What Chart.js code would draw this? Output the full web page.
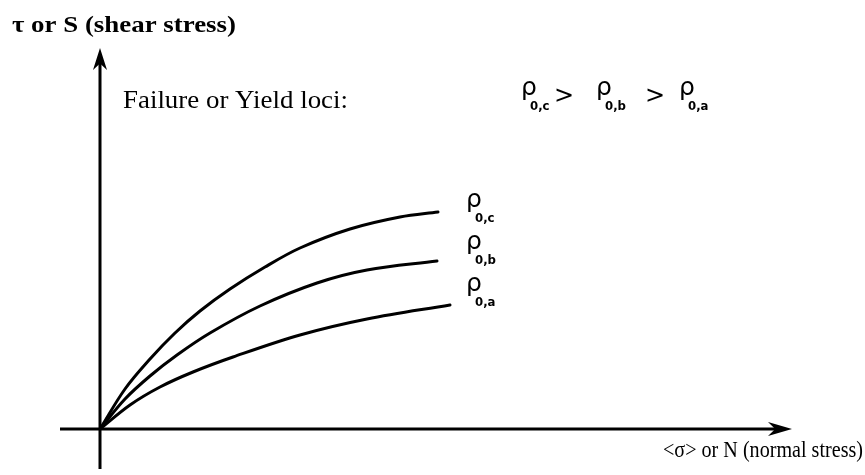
<!DOCTYPE html>
<html>
<head>
<meta charset="utf-8">
<script src="https://cdn.jsdelivr.net/npm/chart.js@4"></script>
<style>
  html, body { margin: 0; padding: 0; background: #fff; }
  #loci { display: block; }
</style>
</head>
<body>
<canvas id="loci" width="865" height="475"></canvas>
<script>
// yield loci, normal stress (x) vs shear stress (y), arbitrary units
const sigmaC = [0, 25, 50, 75, 100, 130, 165, 200, 250, 300, 338];
const tauC   = [0, 40, 70, 96, 118, 140, 162, 181, 200, 212, 217];

const sigmaB = [0, 25, 50, 77, 110, 160, 217, 267, 337];
const tauB   = [0, 30, 53, 74, 96, 123, 146, 159, 168];

const sigmaA = [0, 30, 60, 93, 133, 200, 267, 350];
const tauA   = [0, 24, 42, 57, 72, 94, 110, 124];

const curveNames = ['ρ0,c', 'ρ0,b', 'ρ0,a'];

const toPoints = (xs, ys) => xs.map((x, i) => ({ x: x, y: ys[i] }));

const serif = '"Liberation Serif", "Times New Roman", serif';
const sans = '"DejaVu Sans", sans-serif';

// squeeze or stretch a line of text so it spans the given width
function fitText(ctx, text, x, y, width) {
  const w = ctx.measureText(text).width;
  ctx.save();
  ctx.translate(x, y);
  ctx.scale(width / w, 1);
  ctx.fillText(text, 0, 0);
  ctx.restore();
}

// rho with a small "0,x" subscript hanging under its right side
function drawRho(ctx, x, y, sub) {
  ctx.font = '25px ' + sans;
  ctx.fillText('ρ', x - 1, y);
  ctx.font = 'bold 13px "DejaVu Sans Condensed", ' + sans;
  ctx.fillText(sub, x + 8, y + 15);
}

function arrow(ctx, x0, y0, x1, y1, len, half) {
  const a = Math.atan2(y1 - y0, x1 - x0);
  const c = Math.cos(a), s = Math.sin(a);
  ctx.beginPath();
  ctx.moveTo(x0, y0);
  ctx.lineTo(x1 - c * len * 0.6, y1 - s * len * 0.6);
  ctx.stroke();
  ctx.beginPath();
  ctx.moveTo(x1, y1);
  ctx.lineTo(x1 - c * len - s * half, y1 - s * len + c * half);
  ctx.lineTo(x1 - c * len * 0.7, y1 - s * len * 0.7);
  ctx.lineTo(x1 - c * len + s * half, y1 - s * len - c * half);
  ctx.closePath();
  ctx.fill();
}

const axesAndText = {
  id: 'axesAndText',
  beforeDatasetsDraw(chart) {
    const ctx = chart.ctx;
    const xs = chart.scales.x, ys = chart.scales.y;
    const ox = xs.getPixelForValue(0), oy = ys.getPixelForValue(0);
    ctx.save();
    ctx.strokeStyle = '#000';
    ctx.fillStyle = '#000';
    ctx.lineWidth = 3;
    arrow(ctx, xs.getPixelForValue(-40), oy, xs.getPixelForValue(692), oy, 24, 7);
    arrow(ctx, ox, ys.getPixelForValue(-40), ox, ys.getPixelForValue(381), 22, 7);
    ctx.restore();
  },
  afterDraw(chart) {
    const ctx = chart.ctx;
    ctx.save();
    ctx.fillStyle = '#000';
    ctx.textBaseline = 'alphabetic';

    ctx.font = 'bold 24px ' + serif;
    fitText(ctx, 'τ or S (shear stress)', 12, 32, 224);

    ctx.font = '25px ' + serif;
    fitText(ctx, 'Failure or Yield loci:', 123, 108, 225);
    ctx.font = '24px ' + serif;
    fitText(ctx, '<σ> or N (normal stress)', 663, 457, 200);

    // ordering of the initial densities
    drawRho(ctx, 522, 95, '0,c');
    ctx.font = '24px ' + sans;
    ctx.fillText('>', 554, 103);
    drawRho(ctx, 597, 95, '0,b');
    ctx.font = '24px ' + sans;
    ctx.fillText('>', 645, 103);
    drawRho(ctx, 680, 95, '0,a');

    // name each locus to the right of its end
    const labelY = [207, 249, 291];
    curveNames.forEach((name, i) => drawRho(ctx, 467, labelY[i], name.slice(1)));
    ctx.restore();
  }
};

const lineStyle = {
  borderColor: '#000',
  borderWidth: 3,
  pointRadius: 0,
  fill: false,
  tension: 0.35,
  borderCapStyle: 'round'
};

new Chart(document.getElementById('loci'), {
  type: 'line',
  data: {
    datasets: [
      Object.assign({ label: curveNames[0], data: toPoints(sigmaC, tauC) }, lineStyle),
      Object.assign({ label: curveNames[1], data: toPoints(sigmaB, tauB) }, lineStyle),
      Object.assign({ label: curveNames[2], data: toPoints(sigmaA, tauA) }, lineStyle)
    ]
  },
  options: {
    responsive: false,
    animation: false,
    layout: { padding: 0 },
    plugins: { legend: { display: false }, tooltip: { enabled: false } },
    scales: {
      x: { type: 'linear', display: false, min: -100, max: 765 },
      y: { type: 'linear', display: false, min: -46, max: 429 }
    }
  },
  plugins: [axesAndText]
});
</script>
</body>
</html>
